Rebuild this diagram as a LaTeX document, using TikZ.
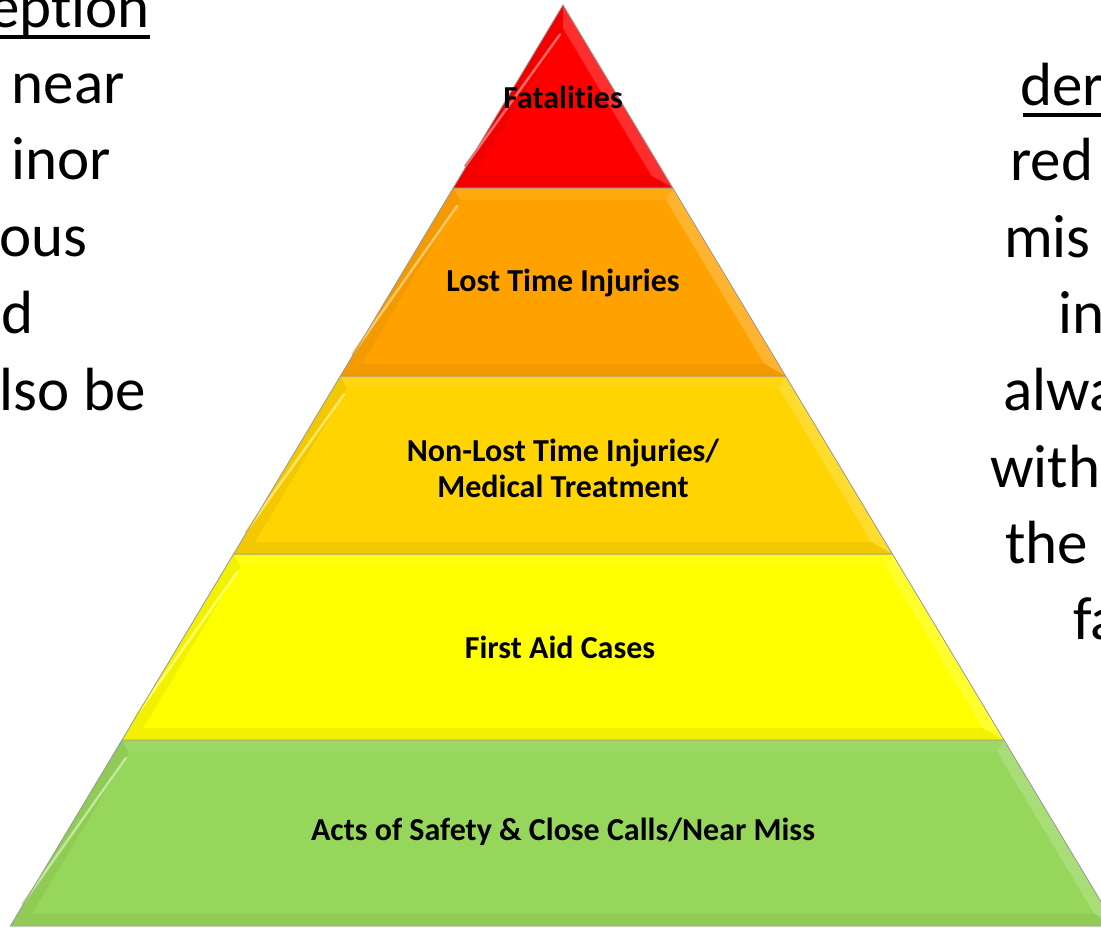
\documentclass[tikz,border=0pt]{standalone}
\usepackage{fontspec}
\setmainfont[Ligatures=NoCommon]{Carlito}
\usetikzlibrary{calc}
\definecolor{cred}{HTML}{FF0000}
\definecolor{corange}{HTML}{FFA200}
\definecolor{cgold}{HTML}{FFD400}
\definecolor{cyellow}{HTML}{FFFF00}
\definecolor{cgreen}{HTML}{96D65A}
\tikzset{
  layerfill/.style={draw=black!40, line width=0.8pt},
  lbl/.style={font=\fontsize{32}{36}\selectfont\bfseries, align=center, inner sep=0pt, text=black},
  side/.style={font=\fontsize{61}{76}\selectfont, inner sep=0pt, text=black},
  uline/.style={line width=3.5pt},
}
\newcommand\pyrlayer[3]{%
  \pgfmathsetmacro\pyLT{563-0.6*(#1-5)}%
  \pgfmathsetmacro\pyRT{563+0.6*(#1-5)}%
  \pgfmathsetmacro\pyLB{563-0.6*(#2-5)}%
  \pgfmathsetmacro\pyRB{563+0.6*(#2-5)}%
  \pgfmathsetmacro\pyIT{max(#1+12,5+1.95*12)}%
  \pgfmathsetmacro\pyIB{#2-12}%
  \pgfmathsetmacro\pyILT{563-0.6*(\pyIT-5)+14}%
  \pgfmathsetmacro\pyIRT{563+0.6*(\pyIT-5)-14}%
  \pgfmathsetmacro\pyILB{563-0.6*(\pyIB-5)+14}%
  \pgfmathsetmacro\pyIRB{563+0.6*(\pyIB-5)-14}%
  \fill[#3] (\pyLT,#1) -- (\pyRT,#1) -- (\pyRB,#2) -- (\pyLB,#2) -- cycle;
  \fill[#3!95!black] (\pyLT,#1) -- (\pyILT,\pyIT) -- (\pyILB,\pyIB) -- (\pyLB,#2) -- cycle;
  \fill[#3!82!white] (\pyRT,#1) -- (\pyIRT,\pyIT) -- (\pyIRB,\pyIB) -- (\pyRB,#2) -- cycle;
  \fill[#3!94!white] (\pyLT,#1) -- (\pyRT,#1) -- (\pyIRT,\pyIT) -- (\pyILT,\pyIT) -- cycle;
  \fill[#3!95!black] (\pyLB,#2) -- (\pyRB,#2) -- (\pyIRB,\pyIB) -- (\pyILB,\pyIB) -- cycle;
  \draw[#3!60!white, line width=2.5pt, line cap=round] ($(\pyILT,\pyIT)+(-3,6)$) -- ($(\pyILB,\pyIB)+(-9,-10)$);
  \draw[layerfill] (\pyLT,#1) -- (\pyRT,#1) -- (\pyRB,#2) -- (\pyLB,#2) -- cycle;
}
\begin{document}
\begin{tikzpicture}[x=1pt,y=-1pt]
\useasboundingbox (0,0) rectangle (1101,928);
\clip (0,0) rectangle (1101,928);
\fill[white] (0,0) rectangle (1101,928);
% pyramid layers
\pyrlayer{740}{926}{cgreen}
\pyrlayer{554}{740}{cyellow}
\pyrlayer{376}{554}{cgold}
\pyrlayer{188}{376}{corange}
\pyrlayer{5}{188}{cred}
% labels
\node[lbl] (fat) at (563,97) {Fatalities};
\node[lbl] (lti) at (563,283) {Lost Time Injuries};
\node[lbl] (nlti) at (563,468) {Non-Lost Time Injuries/\\Medical Treatment};
\node[lbl] (fac) at (560,647) {First Aid Cases};
\node[lbl] (acts) at (563,832) {Acts of Safety \& Close Calls/Near Miss};
% left side text
\node[side, anchor=base east] (l1) at (150,28) {eption};
\node[side, anchor=base east] (l2) at (125,104) {near};
\node[side, anchor=base east] (l3) at (111,180) {inor};
\node[side, anchor=base east] (l4) at (88,257) {ous};
\node[side, anchor=base east] (l5) at (34,333) {d};
\node[side, anchor=base east] (l6) at (146,410) {lso be};
\draw[uline] ($(l1.base west)+(0,9)$) -- ($(l1.base east)+(0,9)$);
% right side text
\node[side, anchor=base west] (r1) at (1020,106) {der};
\node[side, anchor=base west] (r2) at (1010,181) {red};
\node[side, anchor=base west] (r3) at (1004,258) {mis};
\node[side, anchor=base west] (r4) at (1058,334) {in};
\node[side, anchor=base west] (r5) at (1003,410) {alwa};
\node[side, anchor=base west] (r6) at (990,487) {with};
\node[side, anchor=base west] (r7) at (1005,563) {the};
\node[side, anchor=base west] (r8) at (1073,639) {fa};
\draw[uline] ($(r1.base west)+(3,9)$) -- ($(r1.base east)+(20,9)$);
\end{tikzpicture}
\end{document}
